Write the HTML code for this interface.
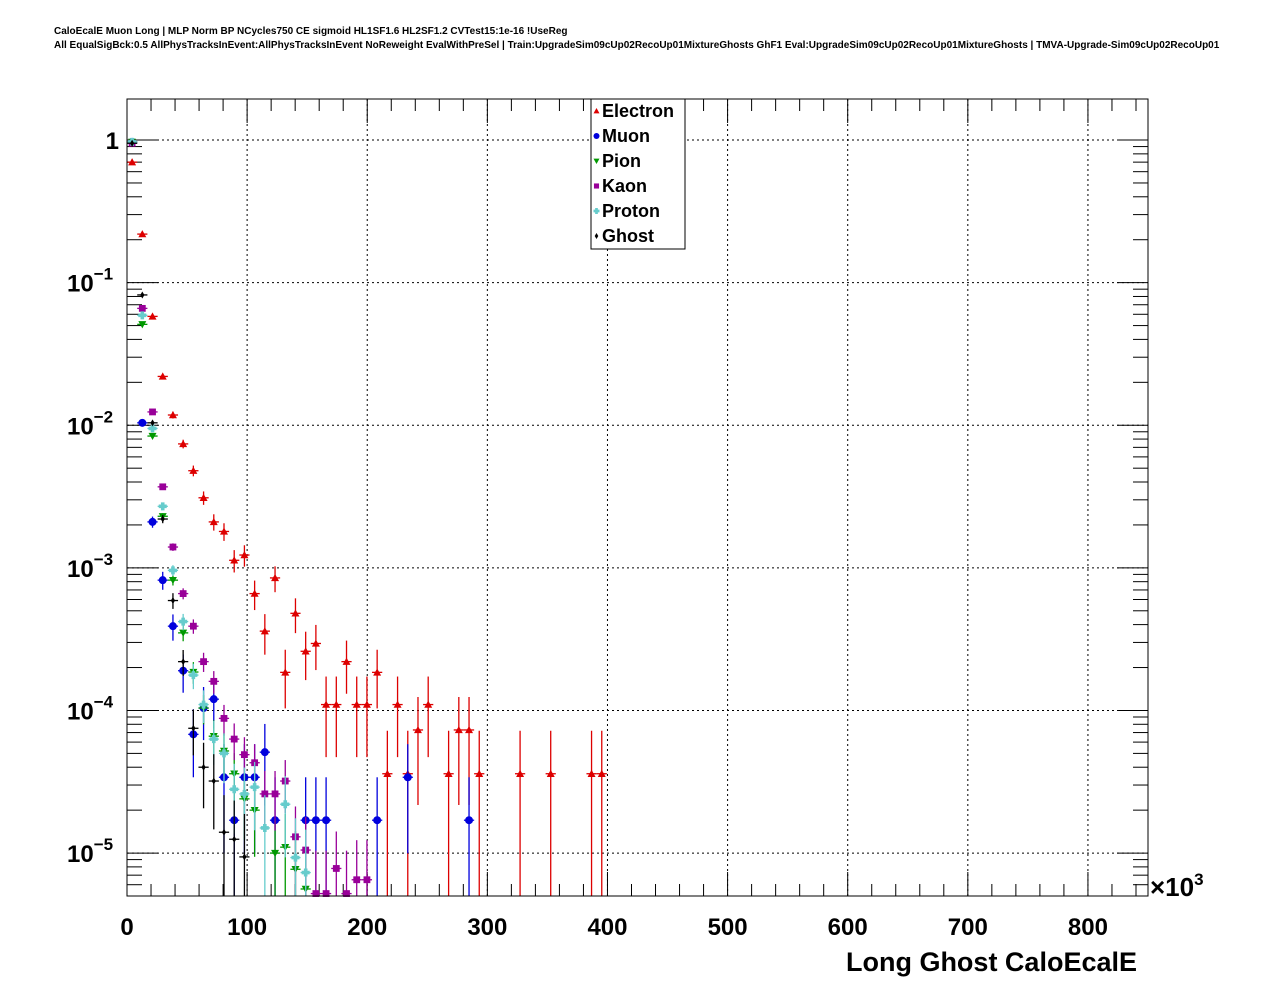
<!DOCTYPE html>
<html><head><meta charset="utf-8"><style>
body{margin:0;background:#fff;}
svg text{font-family:"Liberation Sans",Arial,sans-serif;font-weight:bold;}
</style></head><body>
<svg id="chart" width="1276" height="996" xmlns="http://www.w3.org/2000/svg">
<rect x="0" y="0" width="1276" height="996" fill="#fff"/>
<text x="54" y="34" font-size="10">CaloEcalE Muon Long | MLP Norm BP NCycles750 CE sigmoid HL1SF1.6 HL2SF1.2 CVTest15:1e-16 !UseReg</text>
<text x="54" y="48" font-size="10">All EqualSigBck:0.5 AllPhysTracksInEvent:AllPhysTracksInEvent NoReweight EvalWithPreSel | Train:UpgradeSim09cUp02RecoUp01MixtureGhosts GhF1 Eval:UpgradeSim09cUp02RecoUp01MixtureGhosts | TMVA-Upgrade-Sim09cUp02RecoUp01</text>
<g id="grid"></g>
<g id="axes"></g>
<g id="marks"></g>
<rect x="127" y="99" width="1021" height="797" fill="none" stroke="#000" stroke-width="1"/>
<g id="legend"></g>
<text x="1137" y="971" font-size="27" text-anchor="end">Long Ghost CaloEcalE</text>
<text x="1150" y="896" font-size="26">×10<tspan dy="-11" font-size="17">3</tspan></text>
</svg>
<script>
const binWidth = 8.5;
const xTicks = [0,100,200,300,400,500,600,700,800];
const yDecades = [0,-1,-2,-3,-4,-5];
const seriesNames = ["Electron","Muon","Pion","Kaon","Proton","Ghost"];
const electron = [0.70,0.219,0.058,0.022,0.0118,0.0074,0.0048,0.0031,0.0021,0.0018,0.00113,0.00123,0.00066,0.00036,0.00085,0.000185,0.00048,0.00026,0.000295,0.00011,0.00011,0.00022,0.00011,0.00011,0.000185,3.6e-5,0.00011,3.6e-5,7.3e-5,0.00011,0,3.6e-5,7.3e-5,7.3e-5,3.6e-5,0,0,0,3.6e-5,0,0,3.6e-5,0,0,0,3.6e-5,3.6e-5];
const muon = [0.97,0.0104,0.0021,8.2e-4,3.9e-4,1.9e-4,6.8e-5,1.04e-4,1.2e-4,3.4e-5,1.7e-5,3.4e-5,3.4e-5,5.1e-5,1.7e-5,0,0,1.7e-5,1.7e-5,1.7e-5,0,0,0,0,1.7e-5,0,0,3.4e-5,0,0,0,0,0,1.7e-5];
const pion = [0.97,0.051,0.0084,0.0023,8.2e-4,3.5e-4,1.86e-4,1.04e-4,6.6e-5,5.2e-5,3.6e-5,2.4e-5,2.0e-5,0,1.0e-5,1.1e-5,7.7e-6,5.6e-6];
const kaon = [0.95,0.066,0.0124,0.0037,0.0014,6.6e-4,3.9e-4,2.2e-4,1.6e-4,8.8e-5,6.3e-5,4.9e-5,4.3e-5,2.6e-5,2.6e-5,3.2e-5,1.3e-5,1.05e-5,5.2e-6,5.2e-6,7.8e-6,5.2e-6,6.5e-6,6.5e-6];
const proton = [0.97,0.059,0.0095,0.0027,9.6e-4,4.2e-4,1.77e-4,1.1e-4,6.3e-5,5.0e-5,2.8e-5,2.6e-5,2.9e-5,1.5e-5,0,2.2e-5,9.3e-6,7.3e-6];
const ghost = [0.95,0.082,0.0104,0.0022,5.9e-4,2.2e-4,7.5e-5,4.0e-5,3.2e-5,1.4e-5,1.25e-5,9.4e-6];
const eventUnits = [3.6e-5,1.7e-5,5.6e-6,5.2e-6,7.3e-6,9.4e-6];

const NS="http://www.w3.org/2000/svg";
const X0=127,X1=1148,Y0=99,Y1=896,XMAX=850;
const yTop=Math.log10(1.94), yBot=Math.log10(5.0e-6);
function xs(v){return X0+(v/XMAX)*(X1-X0);}
function ys(v){const l=Math.log10(v);return Y0+(yTop-l)/(yTop-yBot)*(Y1-Y0);}
function mk(tag,attrs,parent){const e=document.createElementNS(NS,tag);for(const k in attrs)e.setAttribute(k,attrs[k]);parent.appendChild(e);return e;}
const grid=document.getElementById('grid'),axes=document.getElementById('axes'),marks=document.getElementById('marks'),legend=document.getElementById('legend');

for(let v=0;v<=XMAX;v+=20){
  const x=xs(v),major=(v%100===0);
  const L=major?24:12;
  let t=mk('line',{x1:x,x2:x,y1:Y1,y2:Y1-L,stroke:'#000'},axes);
  
  
  t=mk('line',{x1:x,x2:x,y1:Y0,y2:Y0+L,stroke:'#000'},axes);
  
  
}
xTicks.forEach(v=>{
  const x=xs(v);
  if(v>0){const g=mk('line',{x1:x,x2:x,y1:Y0,y2:Y1,stroke:'#000','stroke-dasharray':'2,3'},grid);
  
  }
  const t=mk('text',{x:x,y:935,'font-size':24,'text-anchor':'middle'},axes);
  t.textContent=v;
  
  
});
for(let d=-6;d<=0;d++){
  for(let m=1;m<10;m++){
    const v=m*Math.pow(10,d);
    const y=ys(v);
    if(y<Y0||y>Y1)continue;
    const L=m===1?31:15;
    let t=mk('line',{x1:X0,x2:X0+L,y1:y,y2:y,stroke:'#000'},axes);
    
    
    t=mk('line',{x1:X1,x2:X1-L,y1:y,y2:y,stroke:'#000'},axes);
    
    
  }
}
yDecades.forEach(d=>{
  const y=ys(Math.pow(10,d));
  const g=mk('line',{x1:X0,x2:X1,y1:y,y2:y,stroke:'#000','stroke-dasharray':'2,3'},grid);
  
  
  const t=mk('text',{x:98,y:y+9,'font-size':24,'text-anchor':'end'},axes);
  if(d===0){t.textContent='1';t.setAttribute('x',119);}
  else{t.textContent='10';const s=mk('tspan',{dy:-12,'font-size':17},t);s.textContent='\u2212'+(-d);t.setAttribute('x',67);t.setAttribute('text-anchor','start');}
  
  
});

const colors=['#dd0000','#0000dd','#009900','#990099','#66cccc','#000000'];
const shapes=['tri','circ','dtri','sq','plus','diam'];
function marker(shape,x,y,c,s,parent){
  let e;
  if(shape==='tri')e=mk('polygon',{points:`${x},${y-s} ${x-s},${y+s*0.8} ${x+s},${y+s*0.8}`,fill:c},parent);
  else if(shape==='dtri')e=mk('polygon',{points:`${x},${y+s} ${x-s},${y-s*0.8} ${x+s},${y-s*0.8}`,fill:c},parent);
  else if(shape==='circ')e=mk('circle',{cx:x,cy:y,r:s,fill:c},parent);
  else if(shape==='sq')e=mk('rect',{x:x-s*0.85,y:y-s*0.85,width:s*1.7,height:s*1.7,fill:c},parent);
  else if(shape==='plus')e=mk('path',{d:`M${x-s},${y}H${x+s}M${x},${y-s}V${y+s}`,stroke:c,'stroke-width':s*0.9,fill:'none'},parent);
  else e=mk('polygon',{points:`${x},${y-s} ${x+s*0.6},${y} ${x},${y+s} ${x-s*0.6},${y}`,fill:c},parent);
  return e;
}
const allSeries=[electron,muon,pion,kaon,proton,ghost];
allSeries.forEach((arr,si)=>{
  const g=mk('g',{},marks);
  
  
  arr.forEach((v,i)=>{
    if(!(v>0))return;
    const xc=xs((i+0.5)*binWidth), y=ys(v);
    const n=Math.max(1,v/eventUnits[si]);
    const err=v/Math.sqrt(n);
    const yh=ys(v+err);
    const yl=(v-err)>0?ys(v-err):Y1;
    const c=colors[si];
    const p=mk('g',{},g);
    
    
    mk('line',{x1:xc,x2:xc,y1:Math.max(Y0,yh),y2:Math.min(Y1,yl),stroke:c,'stroke-width':1.3},p);
    mk('line',{x1:xs(i*binWidth),x2:xs((i+1)*binWidth),y1:y,y2:y,stroke:c,'stroke-width':1.3},p);
    marker(shapes[si],xc,y,c,si===5?3.5:4,p);
  });
});
mk('rect',{x:591,y:99,width:94,height:150,fill:'#fff',stroke:'#000'},legend);
seriesNames.forEach((n,i)=>{
  const y=111+25*i;
  const e=mk('g',{},legend);
  
  
  marker(shapes[i],596.5,y,colors[i],3,e);
  const t=mk('text',{x:602,y:y+6,'font-size':18},e);
  t.textContent=n;
});
</script>
</body></html>
